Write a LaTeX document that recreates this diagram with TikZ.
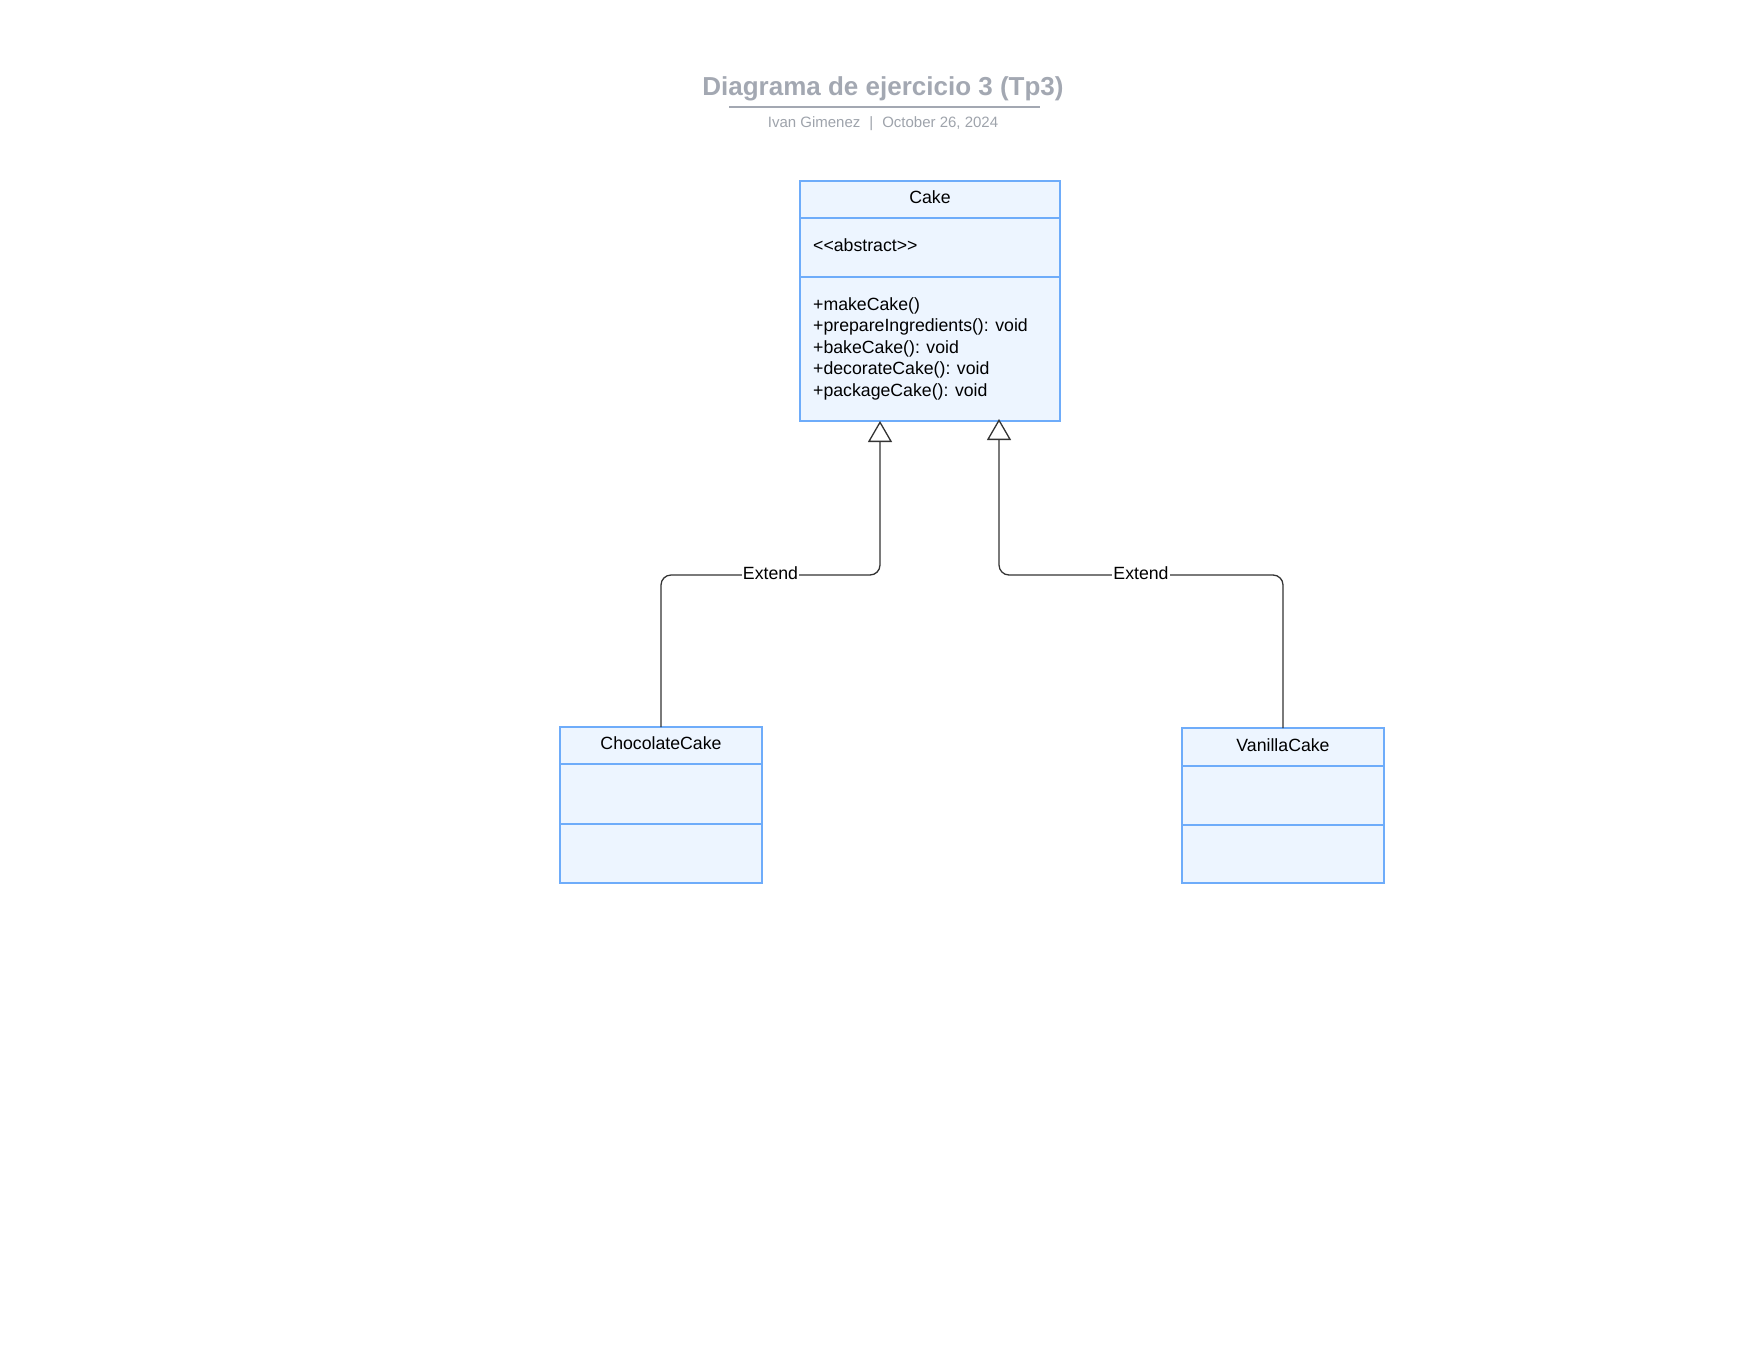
\documentclass[tikz,border=0pt]{standalone}
\usepackage{fontspec}
\setmainfont{Liberation Sans}
\usetikzlibrary{arrows.meta,calc}

\definecolor{boxline}{RGB}{110,172,250}
\definecolor{boxfill}{RGB}{237,245,255}
\definecolor{titlegray}{RGB}{163,168,178}
\definecolor{subgray}{RGB}{158,163,171}
\definecolor{wire}{RGB}{51,51,51}

\newcommand\umlfont{\fontsize{17.7}{21.6}\selectfont}

\begin{document}
\begin{tikzpicture}[x=1pt,y=-1pt,
  classbox/.style={draw=boxline, fill=boxfill, line width=2.2pt, rectangle,
                   inner sep=0pt, outer sep=0pt, anchor=north west},
  divider/.style={draw=boxline, line width=2pt},
  umltext/.style={font=\umlfont, inner sep=0pt, text=black},
  wireline/.style={draw=wire, line width=1.3pt, rounded corners=10pt,
                   -{Triangle[open, length=21pt, width=24pt, fill=white]}},
  lbl/.style={font=\umlfont, fill=white, inner sep=1pt, text=black, yshift=2pt}]

\useasboundingbox (0,0) rectangle (1760,1360);

% heading
\node[font=\fontsize{26}{30}\selectfont\bfseries, text=titlegray, anchor=base,
      inner sep=0pt] (title) at (883,95) {Diagrama de ejercicio 3 (Tp3)};
\draw[draw=titlegray, line width=2pt] (729,107) -- (1040,107);
\node[font=\fontsize{15}{18}\selectfont, text=subgray, anchor=base, inner sep=0pt]
  (byline) at (883,127.5) {Ivan Gimenez\hspace{0.6em}|\hspace{0.6em}October 26, 2024};

% abstract class Cake
\node[classbox, minimum width=260pt, minimum height=240pt] (cake) at (800,181) {};
\draw[divider] ([yshift=-37pt]cake.north west) -- ([yshift=-37pt]cake.north east);
\draw[divider] ([yshift=-96pt]cake.north west) -- ([yshift=-96pt]cake.north east);
\node[umltext, anchor=base] (cakename) at (930,203) {Cake};
\node[umltext, anchor=base west] (cakeattr) at (813,251) {<\kern0pt<abstract>\kern0pt>};
\node[umltext, anchor=base west] (op1) at (813,310)   {+makeCake()};
\node[umltext, anchor=base west] (op2) at (813,331.6) {+prepareIngredients(): void};
\node[umltext, anchor=base west] (op3) at (813,353.2) {+bakeCake(): void};
\node[umltext, anchor=base west] (op4) at (813,374.8) {+decorateCake(): void};
\node[umltext, anchor=base west] (op5) at (813,396.4) {+packageCake(): void};

% subclass ChocolateCake
\node[classbox, minimum width=202pt, minimum height=156pt] (choc) at (560,727) {};
\draw[divider] ([yshift=-37pt]choc.north west) -- ([yshift=-37pt]choc.north east);
\draw[divider] ([yshift=-97pt]choc.north west) -- ([yshift=-97pt]choc.north east);
\node[umltext, anchor=base] (chocname) at (661,749) {ChocolateCake};

% subclass VanillaCake
\node[classbox, minimum width=202pt, minimum height=155pt] (vanilla) at (1182,728) {};
\draw[divider] ([yshift=-38pt]vanilla.north west) -- ([yshift=-38pt]vanilla.north east);
\draw[divider] ([yshift=-97pt]vanilla.north west) -- ([yshift=-97pt]vanilla.north east);
\node[umltext, anchor=base] (vanillaname) at (1283,751) {VanillaCake};

% generalisation links
\coordinate (bendL) at (880,575);
\coordinate (bendR) at (999,575);
\draw[wireline] (choc.north) |- (bendL) -- (bendL |- cake.south);
\draw[wireline] (vanilla.north) |- (bendR) -- ([yshift=2pt]bendR |- cake.south);
\node[lbl] (extL) at ($(choc.north |- bendL)!0.5!(bendL)$) {Extend};
\node[lbl] (extR) at ($(vanilla.north |- bendR)!0.5!(bendR)$) {Extend};

\end{tikzpicture}
\end{document}
